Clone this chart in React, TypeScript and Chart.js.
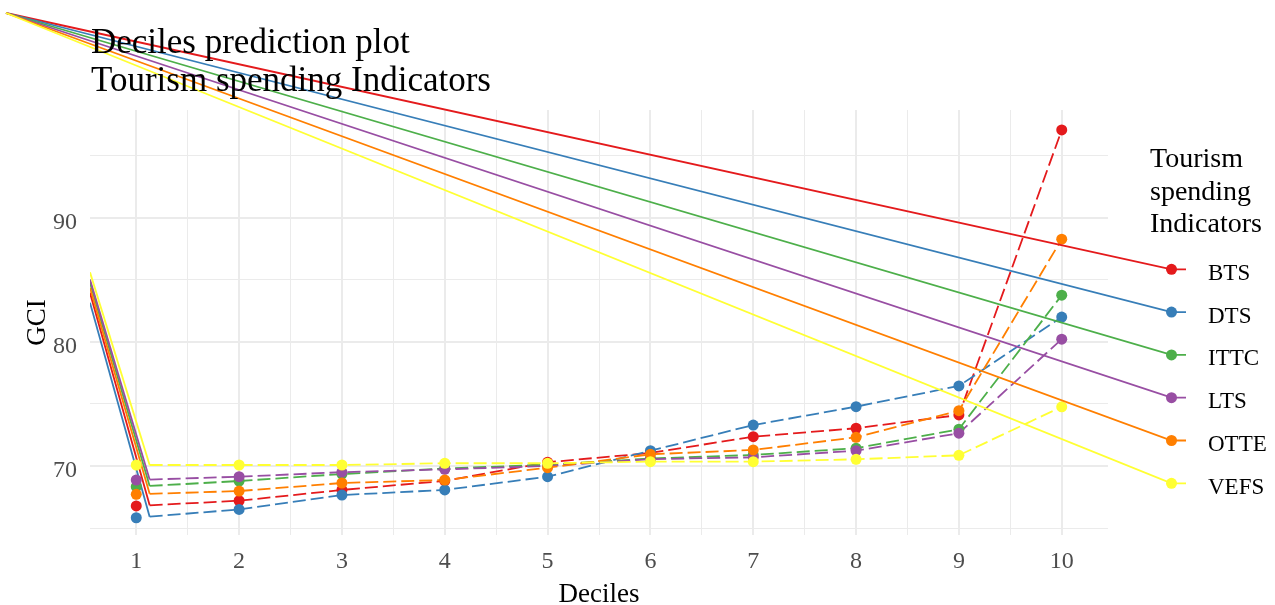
import React, { useEffect, useRef } from 'react';
import { Chart, registerables } from 'chart.js';

Chart.register(...registerables);

const FONT = 'Liberation Serif';

const deciles = [1, 2, 3, 4, 5, 6, 7, 8, 9, 10];
const seriesNames = ['BTS', 'DTS', 'ITTC', 'LTS', 'OTTE', 'VEFS'];
const seriesColors = ['#E41A1C', '#377EB8', '#4DAF4A', '#984EA3', '#FF7F00', '#FFFF33'];

const BTS = [66.78, 67.2, 68.07, 68.8, 70.3, 71.05, 72.36, 73.04, 74.11, 97.07];
const DTS = [65.83, 66.5, 67.66, 68.07, 69.14, 71.23, 73.3, 74.78, 76.45, 82.0];
const ITTC = [68.33, 68.79, 69.35, 69.8, 70.1, 70.6, 70.89, 71.43, 72.96, 83.76];
const LTS = [68.87, 69.14, 69.5, 69.73, 70.0, 70.55, 70.7, 71.23, 72.64, 80.22];
const OTTE = [67.72, 67.98, 68.63, 68.87, 69.86, 70.94, 71.29, 72.31, 74.46, 88.27];
const VEFS = [70.08, 70.08, 70.08, 70.22, 70.22, 70.35, 70.35, 70.54, 70.86, 74.77];
const seriesValues = [BTS, DTS, ITTC, LTS, OTTE, VEFS];

// start heights of the stray solid strokes at the left panel edge
const leftStubStart = [83.95, 83.15, 84.75, 85.02, 84.35, 85.6];

const xTicks = [1, 1.5, 2, 2.5, 3, 3.5, 4, 4.5, 5, 5.5, 6, 6.5, 7, 7.5, 8, 8.5, 9, 9.5, 10];
const yTicks = [65, 70, 75, 80, 85, 90, 95];

const titleLines = ['Deciles prediction plot', 'Tourism spending Indicators'];
const legendTitleLines = ['Tourism', 'spending', 'Indicators'];
const xTitle = 'Deciles';
const yTitle = 'GCI';

const X_MIN = 0.55;
const X_MAX = 10.45;
const Y_MIN = 64.44;
const Y_MAX = 98.68;
const DASH_START = 1.13;
const POINT_R = 5.5;

const overlayPlugin = {
  id: 'overlay',
  afterDraw(chart: any) {
    const { ctx, chartArea } = chart;
    const ca = chartArea;
    ctx.save();
    const keyX = ca.right + 63.5;
    const firstKeyY = ca.top + 159.3;
    const spacing = 42.8;
    // stray strokes from the top-left corner to the legend keys, and the keys
    seriesNames.forEach((name, i) => {
      const y = firstKeyY + i * spacing;
      ctx.strokeStyle = seriesColors[i];
      ctx.lineWidth = 1.8;
      ctx.setLineDash([]);
      ctx.beginPath();
      ctx.moveTo(6, 13);
      ctx.lineTo(keyX, y);
      ctx.lineTo(keyX + 14.5, y);
      ctx.stroke();
      ctx.fillStyle = seriesColors[i];
      ctx.beginPath();
      ctx.arc(keyX, y, POINT_R, 0, Math.PI * 2);
      ctx.fill();
    });
    ctx.fillStyle = '#000';
    ctx.textAlign = 'left';
    ctx.textBaseline = 'alphabetic';
    ctx.font = `23px "${FONT}"`;
    seriesNames.forEach((name, i) => {
      const y = firstKeyY + i * spacing;
      ctx.fillText(name, ca.right + 100, y + 10.5);
    });
    ctx.font = `28px "${FONT}"`;
    legendTitleLines.forEach((t, i) => {
      ctx.fillText(t, ca.right + 42, ca.top + 57 + i * 32.5);
    });
    // plot title
    ctx.font = `35px "${FONT}"`;
    titleLines.forEach((t, i) => {
      ctx.fillText(t, ca.left + 1, 53 + i * 37.5);
    });
    // axis titles
    ctx.font = `27px "${FONT}"`;
    ctx.textAlign = 'center';
    ctx.fillText(xTitle, (ca.left + ca.right) / 2, 602);
    ctx.translate(45, (ca.top + ca.bottom) / 2);
    ctx.rotate(-Math.PI / 2);
    ctx.fillText(yTitle, 0, 0);
    ctx.restore();
  },
};

export default function App() {
  const ref = useRef<HTMLCanvasElement>(null);

  useEffect(() => {
    const datasets: any[] = [];
    seriesNames.forEach((name, i) => {
      const vals = seriesValues[i];
      const color = seriesColors[i];
      const dashStartY = vals[0] + (vals[1] - vals[0]) * (DASH_START - deciles[0]);
      datasets.push({
        label: name + ' points',
        data: deciles.map((d, j) => ({ x: d, y: vals[j] })),
        showLine: false,
        pointRadius: POINT_R,
        pointBorderWidth: 0,
        pointBackgroundColor: color,
        pointBorderColor: color,
        order: 5 - i,
      });
      datasets.push({
        label: name + ' dashed',
        data: [{ x: DASH_START, y: dashStartY }].concat(
          deciles.slice(1).map((d, j) => ({ x: d, y: vals[j + 1] }))
        ),
        borderColor: color,
        borderWidth: 1.8,
        borderDash: [13, 5],
        pointRadius: 0,
        tension: 0,
        order: 10 + (5 - i),
      });
      datasets.push({
        label: name + ' stub',
        data: [
          { x: X_MIN, y: leftStubStart[i] },
          { x: DASH_START, y: dashStartY },
        ],
        borderColor: color,
        borderWidth: 1.8,
        pointRadius: 0,
        order: 20 + (5 - i),
      });
    });

    const chart = new Chart(ref.current!, {
      type: 'line',
      data: { datasets },
      options: {
        animation: false,
        responsive: false,
        devicePixelRatio: 1,
        layout: { padding: { left: 0, top: 110, right: 167, bottom: 0 } },
        plugins: {
          legend: { display: false },
          title: { display: false },
          tooltip: { enabled: false },
        },
        scales: {
          x: {
            type: 'linear',
            min: X_MIN,
            max: X_MAX,
            afterBuildTicks: (s: any) => {
              s.ticks = xTicks.map((v) => ({ value: v }));
            },
            afterFit: (s: any) => {
              s.height = 70;
            },
            border: { display: false },
            grid: {
              color: '#ebebeb',
              drawTicks: false,
              lineWidth: (c: any) => (c.tick && Number.isInteger(c.tick.value) ? 2 : 1),
            },
            ticks: {
              autoSkip: false,
              maxRotation: 0,
              padding: 12,
              color: '#4d4d4d',
              font: { family: FONT, size: 24 },
              callback: (v: any) => (Number.isInteger(v) ? String(v) : ''),
            },
          },
          y: {
            type: 'linear',
            min: Y_MIN,
            max: Y_MAX,
            afterBuildTicks: (s: any) => {
              s.ticks = yTicks.map((v) => ({ value: v }));
            },
            afterFit: (s: any) => {
              s.width = 90;
            },
            border: { display: false },
            grid: {
              color: '#ebebeb',
              drawTicks: false,
              lineWidth: (c: any) => (c.tick && c.tick.value % 10 === 0 ? 2 : 1),
            },
            ticks: {
              autoSkip: false,
              padding: 13,
              labelOffset: 5,
              color: '#4d4d4d',
              font: { family: FONT, size: 24 },
              callback: (v: any) => (v % 10 === 0 ? String(v) : ''),
            },
          },
        },
      },
      plugins: [overlayPlugin],
    });
    return () => chart.destroy();
  }, []);

  return (
    <div style={{ position: 'fixed', left: 0, top: 0, width: 1275, height: 605, background: '#fff' }}>
      <canvas ref={ref} width={1275} height={605} style={{ display: 'block' }} />
    </div>
  );
}
